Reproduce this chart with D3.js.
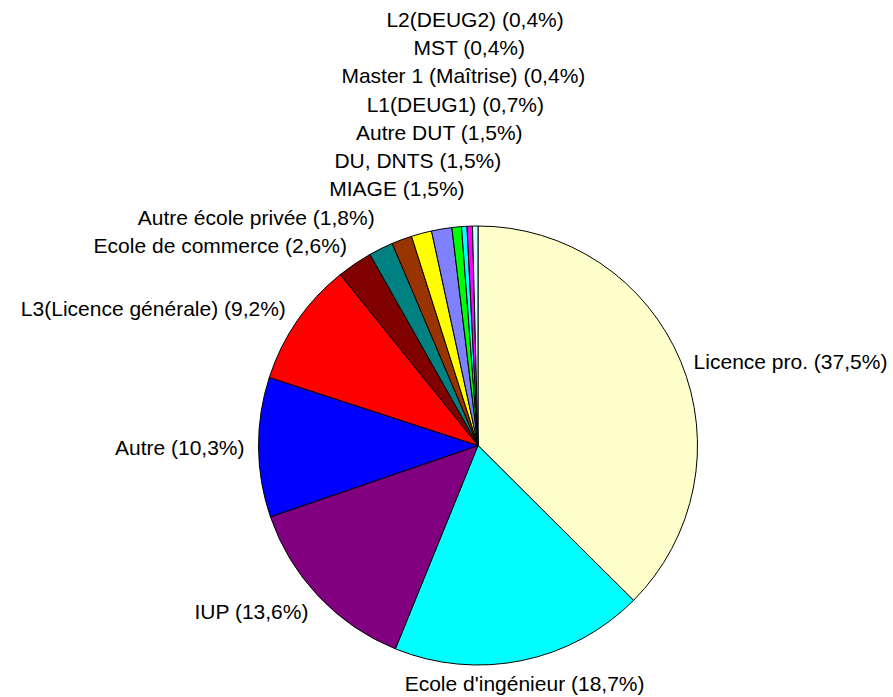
<html>
<head>
    <style>
        body { margin: 0; background: #fff; }
        text { font-family: "Liberation Sans", Arial, Helvetica, sans-serif; font-size: 21px; fill: #000; }
    </style>
</head>
<body>
<script src="https://d3js.org/d3.v7.min.js"></script>
<script>
// data (percent), clockwise from 12 o'clock
var categories = ['Licence pro.', "Ecole d'ingénieur", 'IUP', 'Autre', 'L3(Licence générale)',
    'Ecole de commerce', 'Autre école privée', 'MIAGE', 'DU, DNTS', 'Autre DUT',
    'L1(DEUG1)', 'Master 1 (Maîtrise)', 'MST', 'L2(DEUG2)'];
var values = [37.5, 18.7, 13.6, 10.3, 9.2, 2.6, 1.8, 1.5, 1.5, 1.5, 0.7, 0.4, 0.4, 0.4];
var colors = ['#FFFFCC', '#00FFFF', '#800080', '#0000FF', '#FF0000', '#800000', '#008080',
    '#993300', '#FFFF00', '#8080FF', '#00FF00', '#00FFFF', '#FF00FF', '#CCFFFF'];

var width = 893;
var height = 697;
var cx = 478, cy = 445.5, radius = 219.5;
var labelRadius = radius + 14;
var lineH = 28.3;

var svg = d3.select('body')
            .append('svg')
            .attr('width', width)
            .attr('height', height);

var g = svg.append('g')
           .attr('transform', 'translate(' + cx + ',' + cy + ')');

var data = categories.map(function(c, i) {
    return {name: c, value: values[i], color: colors[i]};
});

var pie = d3.pie()
            .sort(null)
            .value(function(d) { return d.value; });

var arc = d3.arc().innerRadius(0).outerRadius(radius);

var arcs = pie(data);

g.selectAll('.slice')
 .data(arcs)
 .enter()
 .append('path')
 .attr('class', 'slice')
 .attr('d', arc)
 .attr('fill', function(d) { return d.data.color; })
 .attr('stroke', '#000')
 .attr('stroke-width', 1);

// label layout, roughly the way the spreadsheet placed them
var fmt = function(v) { return d3.format('.1f')(v).replace('.', ','); };

var labels = arcs.map(function(d) {
    var a = (d.startAngle + d.endAngle) / 2;
    var s = Math.sin(a), c = Math.cos(a);
    var px = labelRadius * s, py = -labelRadius * c;
    var anchor = 'middle', y = py;
    if (s > 0.4) { anchor = 'start'; y = py + 6; }
    else if (s < -0.4) { anchor = 'end'; y = py - c * 8; }
    else y = py - c * 10;
    return {text: d.data.name + ' (' + fmt(d.data.value) + '%)', x: px, y: y, anchor: anchor, s: s, c: c};
});

// push stacked labels on the upper left side upward
for (var i = 1; i < labels.length; i++) {
    var p = labels[i - 1], l = labels[i];
    if (p.c > 0 && l.c > 0 && p.s < 0 && l.s < 0) {
        l.y = Math.min(l.y, p.y - lineH);
    }
}

g.selectAll('.label')
 .data(labels)
 .enter()
 .append('text')
 .attr('class', 'label')
 .attr('x', function(d) { return d.x; })
 .attr('y', function(d) { return d.y; })
 .attr('dy', '0.35em')
 .attr('text-anchor', function(d) { return d.anchor; })
 .text(function(d) { return d.text; });
</script>
</body>
</html>
